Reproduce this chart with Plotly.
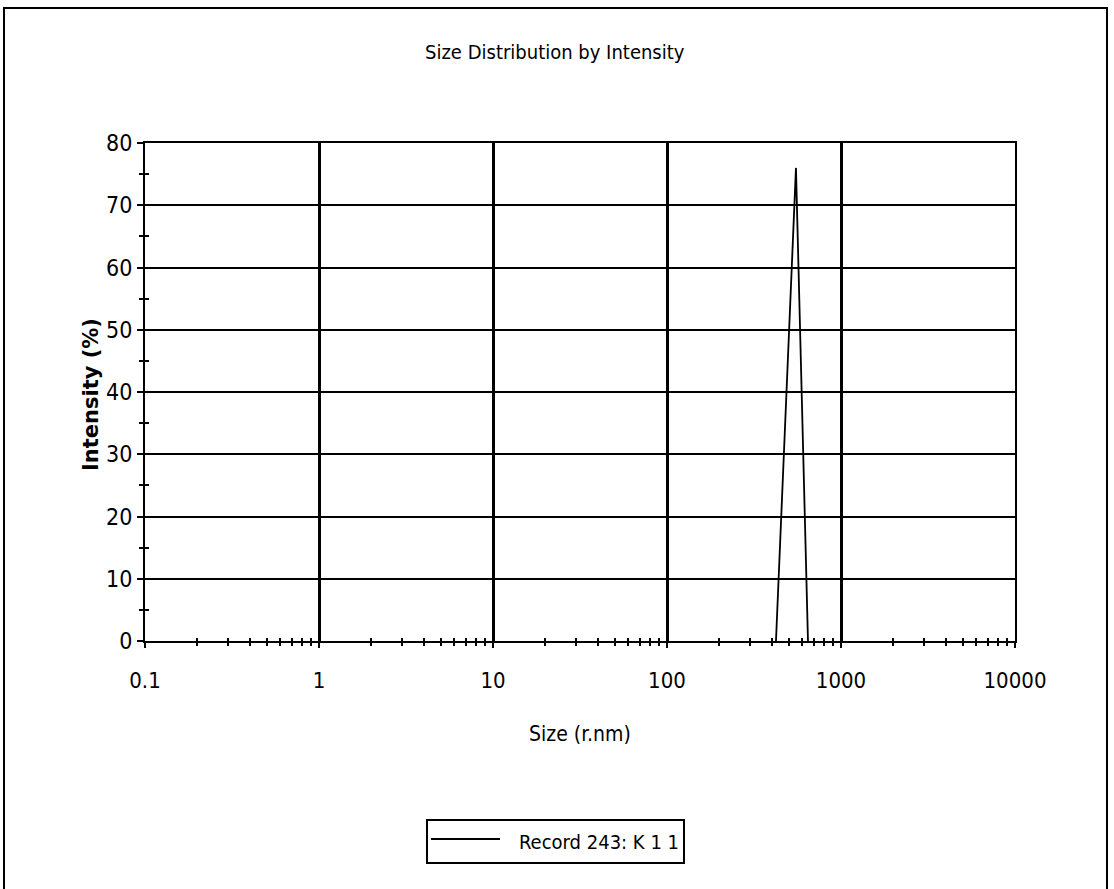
import plotly.graph_objects as go

# Size distribution record (radius in nm, intensity in %)
size_nm = [423, 551, 646]
intensity_pct = [0, 76, 0]

x_tick_vals = [0.1, 1, 10, 100, 1000, 10000]
x_tick_text = ["0.1", "1", "10", "100", "1000", "10000"]
x_minor_vals = [m * 10 ** e for e in range(-1, 4) for m in range(2, 10)]
y_tick_vals = [0, 10, 20, 30, 40, 50, 60, 70, 80]
y_minor_vals = [5, 15, 25, 35, 45, 55, 65, 75]

record_label = "Record 243: K 1 1"
title_text = "Size Distribution by Intensity"
x_title = "Size (r.nm)"
y_title = "Intensity (%)"

NARROW = "Liberation Sans Narrow, Arial Narrow, DejaVu Sans Condensed, sans-serif"
W, H = 1114, 889
L, R, T, B = 145, 99, 143, 248
PW, PH = W - L - R, H - T - B


def px(x):
    return (x - L) / PW


def py(y):
    return (H - B - y) / PH


fig = go.Figure()
fig.add_trace(go.Scatter(
    x=size_nm, y=intensity_pct, mode="lines",
    line=dict(color="black", width=1.8),
    name=record_label, showlegend=False, hoverinfo="x+y",
))
# companion trace on the overlay axes (carries the inward half of minor ticks)
fig.add_trace(go.Scatter(
    x=size_nm, y=intensity_pct, mode="lines", xaxis="x2", yaxis="y2",
    line=dict(color="rgba(0,0,0,0)", width=0), showlegend=False, hoverinfo="skip",
))

fig.update_layout(
    width=W, height=H,
    margin=dict(l=L, r=R, t=T, b=B),
    paper_bgcolor="white", plot_bgcolor="white",
    showlegend=False,
    xaxis=dict(
        type="log", range=[-1, 4],
        tickmode="array", tickvals=x_tick_vals, ticktext=x_tick_text,
        ticks="outside", ticklen=5, tickwidth=2, tickcolor="black",
        ticklabelstandoff=14,
        tickfont=dict(family=NARROW, size=22, color="black"),
        showgrid=True, gridcolor="black", gridwidth=2.5,
        showline=True, linecolor="black", linewidth=2, mirror=True,
        zeroline=False,
        minor=dict(tickmode="array", tickvals=x_minor_vals, ticks="outside",
                   ticklen=3, tickwidth=2, tickcolor="black", showgrid=False),
    ),
    yaxis=dict(
        range=[0, 80],
        tickmode="array", tickvals=y_tick_vals,
        ticks="outside", ticklen=6, tickwidth=2, tickcolor="black",
        tickfont=dict(family=NARROW, size=23, color="black"),
        showgrid=True, gridcolor="black", gridwidth=2,
        showline=True, linecolor="black", linewidth=2, mirror=True,
        zeroline=False,
        minor=dict(tickmode="array", tickvals=y_minor_vals, ticks="outside",
                   ticklen=4, tickwidth=2, tickcolor="black", showgrid=False),
    ),
    # overlay axes: inward tick halves at the minor positions
    xaxis2=dict(
        type="log", range=[-1, 4], overlaying="x", anchor="y2",
        showticklabels=False, showgrid=False, zeroline=False, showline=False,
        tickmode="array", tickvals=x_minor_vals, ticks="inside",
        ticklen=3, tickwidth=2, tickcolor="black",
    ),
    yaxis2=dict(
        range=[0, 80], overlaying="y", anchor="x2",
        showticklabels=False, showgrid=False, zeroline=False, showline=False,
        tickmode="array", tickvals=y_minor_vals, ticks="inside",
        ticklen=4, tickwidth=2, tickcolor="black",
    ),
    font=dict(family=NARROW, color="black"),
)

# chart frame
fig.add_shape(type="rect", xref="paper", yref="paper",
              x0=px(4), x1=px(1107), y0=py(900), y1=py(8),
              line=dict(color="black", width=2), fillcolor="rgba(0,0,0,0)", layer="above")

# title and axis titles
fig.add_annotation(text=title_text, xref="paper", yref="paper",
                   x=px(555), y=py(52), xanchor="center", yanchor="middle",
                   showarrow=False, font=dict(family=NARROW, size=20, color="black"))
fig.add_annotation(text=x_title, xref="paper", yref="paper",
                   x=px(580), y=py(734), xanchor="center", yanchor="middle",
                   showarrow=False, font=dict(family=NARROW, size=21, color="black"))
fig.add_annotation(text="<b>" + y_title + "</b>", xref="paper", yref="paper",
                   x=px(91), y=py(395), xanchor="center", yanchor="middle",
                   textangle=-90, showarrow=False,
                   font=dict(family="DejaVu Sans, Verdana, sans-serif", size=21, color="black"))

# legend box
lx0, lx1, ly0, ly1 = 427, 684, 820, 863
fig.add_shape(type="rect", xref="paper", yref="paper",
              x0=px(lx0), x1=px(lx1), y0=py(ly1), y1=py(ly0),
              line=dict(color="black", width=2), fillcolor="white")
fig.add_shape(type="line", xref="paper", yref="paper",
              x0=px(431), x1=px(500), y0=py(839), y1=py(839),
              line=dict(color="black", width=1.8))
fig.add_annotation(text=record_label, xref="paper", yref="paper",
                   x=px(681), y=py(842), xanchor="right", yanchor="middle",
                   showarrow=False, font=dict(family=NARROW, size=20, color="black"))

fig.write_html("out.html")
